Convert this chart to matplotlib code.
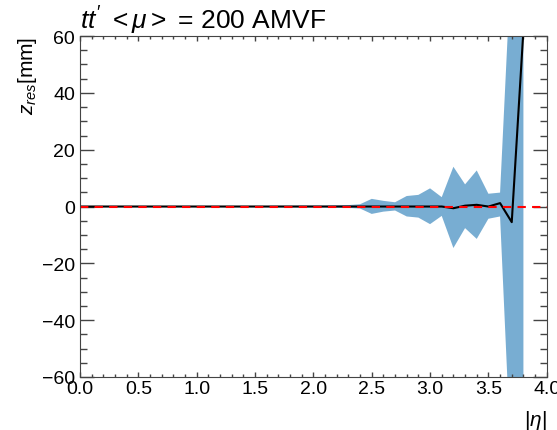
import matplotlib.pyplot as plt
from matplotlib.ticker import MultipleLocator

# |eta| bin positions
eta = [0.0, 0.1, 0.2, 0.3, 0.4, 0.5, 0.6, 0.7, 0.8, 0.9,
       1.0, 1.1, 1.2, 1.3, 1.4, 1.5, 1.6, 1.7, 1.8, 1.9,
       2.0, 2.1, 2.2, 2.3, 2.4, 2.5, 2.6, 2.7, 2.8, 2.9,
       3.0, 3.1, 3.2, 3.3, 3.4, 3.5, 3.6, 3.7, 3.8]

# mean z residual [mm]
z_mean = [0.0, 0.0, 0.0, 0.0, 0.0, 0.0, 0.0, 0.0, 0.0, 0.0,
          0.0, 0.0, 0.0, 0.0, 0.0, 0.0, 0.0, 0.0, 0.0, 0.0,
          0.0, 0.0, 0.0, 0.0, 0.0, 0.0, 0.0, 0.0, 0.0, 0.0,
          0.0, 0.0, -0.6, 0.3, 0.6, 0.0, 1.2, -5.5, 62.0]

# band edges [mm]
z_up = [0.2, 0.2, 0.2, 0.2, 0.2, 0.2, 0.2, 0.2, 0.2, 0.2,
        0.2, 0.2, 0.2, 0.2, 0.2, 0.2, 0.2, 0.25, 0.25, 0.3,
        0.3, 0.3, 0.4, 0.5, 0.8, 2.7, 2.0, 1.5, 3.7, 4.1,
        6.4, 3.3, 14.0, 7.8, 12.7, 4.5, 4.9, 90.0, 150.0]
z_down = [-0.2, -0.2, -0.2, -0.2, -0.2, -0.2, -0.2, -0.2, -0.2, -0.2,
          -0.2, -0.2, -0.2, -0.2, -0.2, -0.2, -0.2, -0.25, -0.25, -0.3,
          -0.3, -0.3, -0.4, -0.5, -0.7, -2.6, -1.8, -1.4, -3.5, -3.9,
          -6.2, -3.3, -14.6, -7.6, -11.4, -4.3, -3.5, -95.0, -100.0]

plt.rcParams['font.family'] = ['Liberation Sans', 'DejaVu Sans']
plt.rcParams['mathtext.fontset'] = 'custom'
plt.rcParams['mathtext.it'] = 'Liberation Sans:italic'
plt.rcParams['mathtext.rm'] = 'Liberation Sans'

fig = plt.figure(figsize=(5.57, 4.31), dpi=100)
ax = fig.add_axes([0.1436, 0.123, 0.838, 0.791])

ax.fill_between(eta, z_down, z_up, color='tab:blue', alpha=0.6, linewidth=0)
ax.plot(eta, z_mean, color='black', linewidth=1.5)
ax.axhline(0, color='red', linestyle='--', linewidth=1.5, dashes=(4, 3))

ax.set_xlim(0, 4)
ax.set_ylim(-60, 60)
ax.xaxis.set_major_locator(MultipleLocator(0.5))
ax.xaxis.set_minor_locator(MultipleLocator(0.1))
ax.yaxis.set_major_locator(MultipleLocator(20))
ax.yaxis.set_minor_locator(MultipleLocator(5))
ax.tick_params(which='both', direction='in', top=True, right=True,
               labelsize=14, color='#444444')
ax.tick_params(axis='x', which='major', length=3.5, width=1, pad=2)
ax.tick_params(axis='x', which='minor', length=2, width=1)
ax.tick_params(axis='y', which='major', length=10, width=1)
ax.tick_params(axis='y', which='minor', length=5, width=1)
for sp in ax.spines.values():
    sp.set_color('#444444')

ax.set_xlabel(r'$|\eta|$', fontsize=15, loc='right', labelpad=8)
ax.set_ylabel(r'$z_{res}$[mm]', fontsize=15, loc='top', labelpad=2)
ax.set_title(r"$tt'$ $<\mu>$ = 200 AMVF", fontsize=19, loc='left', pad=2)

fig.savefig('out.png', dpi=100)
